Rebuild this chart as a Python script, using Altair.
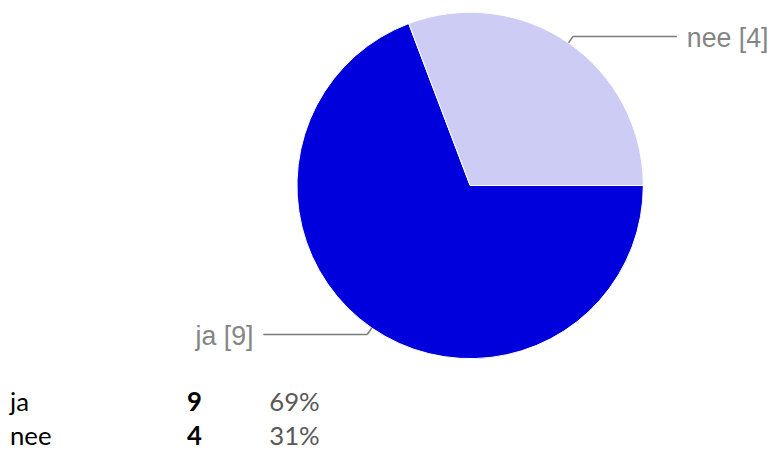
import math
import altair as alt
import pandas as pd

# ---- data ----
categories = ["ja", "nee"]
counts = [9, 4]
colors = ["#0000dc", "#ccccf5"]

df = pd.DataFrame({"category": categories, "count": counts})

# ---- layout constants (chart pixels) ----
W, H = 768, 444
CX, CY = 467, 177      # pie centre
R = 175                # pie radius
R_ELBOW = 183
LEAD = 105
GAP = 10
ROW0_PX, ROW_STEP = 405, 34            # baseline of first table row, row step
COL_LABEL_PX, COL_NUM_PX, COL_PCT_PX = 2, 181, 264

xs = alt.Scale(domain=[-CX, W - CX], range=[0, W], nice=False, zero=False)
ys = alt.Scale(domain=[CY - H, CY], range=[H, 0], nice=False, zero=False)

base = (
    alt.Chart(df)
    .transform_window(idx="row_number()", cum="sum(count)")
    .transform_joinaggregate(total="sum(count)")
    .transform_calculate(
        ang="PI/2 + 2*PI*(datum.cum - datum.count/2)/datum.total",
    )
    .transform_calculate(
        sx="sin(datum.ang) >= 0 ? 1 : -1",
        x0=f"{R}*sin(datum.ang)",
        y0=f"{R}*cos(datum.ang)",
        x1=f"{R_ELBOW}*sin(datum.ang)",
        y1=f"{R_ELBOW}*cos(datum.ang)",
        pct="round(100*datum.count/datum.total) + '%'",
        lab="datum.category + ' [' + datum.count + ']'",
        ry=f"{CY} - ({ROW0_PX} + {ROW_STEP}*(datum.idx - 1))",
    )
    .transform_calculate(
        x2=f"datum.x1 + datum.sx*{LEAD}",
    )
    .transform_calculate(
        tx=f"datum.x2 + datum.sx*{GAP}",
        ty="datum.y1 - 3",
        cl=f"{COL_LABEL_PX} - {CX}",
        cn=f"{COL_NUM_PX} - {CX}",
        cp=f"{COL_PCT_PX} - {CX}",
    )
)

X = lambda f: alt.X(f, type="quantitative", scale=xs, axis=None)
Y = lambda f: alt.Y(f, type="quantitative", scale=ys, axis=None)

pie = base.mark_arc(radius=R, stroke="white", strokeWidth=1).encode(
    theta=alt.Theta("count:Q", stack=True,
                    scale=alt.Scale(range=[math.pi / 2, math.pi / 2 + 2 * math.pi])),
    color=alt.Color("category:N", scale=alt.Scale(domain=categories, range=colors), legend=None),
    order=alt.Order("idx:Q"),
    x=alt.X(datum=0, type="quantitative", scale=xs, axis=None),
    y=alt.Y(datum=0, type="quantitative", scale=ys, axis=None),
)

line_color = "#7a7a7a"
diag = base.mark_rule(color=line_color, strokeWidth=1.5).encode(
    x=X("x0"), y=Y("y0"), x2="x1:Q", y2="y1:Q"
)
horiz = base.mark_rule(color=line_color, strokeWidth=1.5).encode(
    x=X("x1"), y=Y("y1"), x2="x2:Q", y2="y1:Q"
)

label_font = "Liberation Sans"
lab_right = base.transform_filter("datum.sx > 0").mark_text(
    align="left", baseline="middle", font=label_font, fontSize=27, color="#858585"
).encode(x=X("tx"), y=Y("ty"), text="lab:N")
lab_left = base.transform_filter("datum.sx < 0").mark_text(
    align="right", baseline="middle", font=label_font, fontSize=27, color="#858585"
).encode(x=X("tx"), y=Y("ty"), text="lab:N")

table_font = "Lato"
t_cat = base.mark_text(align="left", baseline="alphabetic", font=table_font,
                       fontSize=26, color="#000000").encode(
    x=X("cl"), y=Y("ry"), text="category:N")
t_num = base.mark_text(align="left", baseline="alphabetic", font=table_font,
                       fontSize=26, fontWeight="bold", color="#000000").encode(
    x=X("cn"), y=Y("ry"), text="count:Q")
t_pct = base.mark_text(align="left", baseline="alphabetic", font=table_font,
                       fontSize=26, color="#595959").encode(
    x=X("cp"), y=Y("ry"), text="pct:N")

chart = (
    alt.layer(pie, diag, horiz, lab_right, lab_left, t_cat, t_num, t_pct)
    .properties(width=W, height=H, padding=0, autosize="none")
    .configure_view(stroke=None)
)

chart.save("out.html", embed_options={"renderer": "svg", "actions": False})
